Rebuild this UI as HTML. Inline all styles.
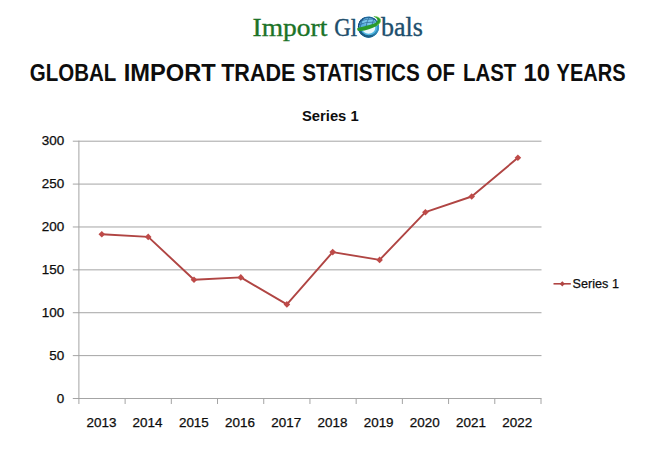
<!DOCTYPE html>
<html><head><meta charset="utf-8">
<style>
html,body{margin:0;padding:0;background:#fff;width:650px;height:450px;overflow:hidden;}
svg{display:block;}
text{font-family:"Liberation Sans",sans-serif;}
</style></head>
<body>
<svg width="650" height="450" viewBox="0 0 650 450">
<rect width="650" height="450" fill="#fff"/>
<!-- globe -->
<defs>
<linearGradient id="rg" x1="0" y1="0" x2="1" y2="0"><stop offset="0" stop-color="#1a5a80"/><stop offset="0.6" stop-color="#1c6189"/><stop offset="1" stop-color="#3ea6d8"/></linearGradient>
<clipPath id="gc"><circle cx="368.5" cy="27.1" r="10.6"/></clipPath>
<clipPath id="gb"><path d="M350 30.6 C362 30.6 372 28.5 384 20 L384 42 L350 42 Z"/></clipPath>
</defs>
<g clip-path="url(#gc)">
  <rect x="356" y="15" width="26" height="25" fill="#5aafdf"/>
  <ellipse cx="369" cy="21.5" rx="7" ry="3.6" fill="#86d0f2" opacity="0.7"/>
  <circle cx="368.5" cy="27.1" r="10" fill="none" stroke="#22679a" stroke-width="1.4"/>
  <g fill="none" stroke="#1c5586" stroke-width="0.9" opacity="0.7">
    <path d="M358 21.8 Q367 18 376 19"/>
    <path d="M357.5 25.2 Q366 21.5 375 22"/>
    <path d="M364 16.5 Q361 22 360 28"/>
    <path d="M369.5 16.5 Q366.5 22 366 27"/>
    <path d="M374.5 17.5 Q372.5 22 372 25"/>
  </g>
  <path d="M358.2 27 Q358 20 364.5 16.8" fill="none" stroke="#163c68" stroke-width="1.7" stroke-dasharray="1.4 0.9"/>
  <g clip-path="url(#gb)">
    <rect x="357" y="15" width="23.5" height="25" fill="url(#rg)"/>
    <ellipse cx="368.8" cy="27.6" rx="8.5" ry="7.7" fill="#4fb6e2"/>
    <ellipse cx="368.6" cy="27.8" rx="6.7" ry="5.9" fill="#eaf7fc"/>
  </g>
</g>
<path d="M357.3 28.4 C356.9 30.2 358 31.2 360 31.1 C366 30.7 372 28.8 376.6 26.1 C379.6 24.3 381.1 22 380.7 19.8 C380.3 17.8 378 16.5 374.4 16.2 L373.4 16.4 C375.6 17.2 377.3 18.4 377.4 19.9 C377.5 21.5 375.6 22.9 372.8 23.9 C368.8 25.4 363 26.6 357.3 27.9 Z" fill="#2b9a2b"/>
<path d="M376.8 25.6 C379.8 23.8 380.9 21.8 380.5 19.8 C380.1 18 378.2 16.8 375 16.4" fill="none" stroke="#8fdc6a" stroke-width="0.7"/>
<!-- chart -->
<g stroke="#a4a4a4" stroke-width="1" fill="none">
<line x1="72.8" y1="141.20" x2="541.50" y2="141.20"/>
<line x1="72.8" y1="184.08" x2="541.50" y2="184.08"/>
<line x1="72.8" y1="226.97" x2="541.50" y2="226.97"/>
<line x1="72.8" y1="269.85" x2="541.50" y2="269.85"/>
<line x1="72.8" y1="312.73" x2="541.50" y2="312.73"/>
<line x1="72.8" y1="355.62" x2="541.50" y2="355.62"/>
<line x1="72.8" y1="398.50" x2="541.50" y2="398.50"/>
<line x1="78.90" y1="140.70" x2="78.90" y2="404.00"/>
<line x1="125.11" y1="398.50" x2="125.11" y2="404.00"/>
<line x1="171.32" y1="398.50" x2="171.32" y2="404.00"/>
<line x1="217.53" y1="398.50" x2="217.53" y2="404.00"/>
<line x1="263.74" y1="398.50" x2="263.74" y2="404.00"/>
<line x1="309.95" y1="398.50" x2="309.95" y2="404.00"/>
<line x1="356.16" y1="398.50" x2="356.16" y2="404.00"/>
<line x1="402.37" y1="398.50" x2="402.37" y2="404.00"/>
<line x1="448.58" y1="398.50" x2="448.58" y2="404.00"/>
<line x1="494.79" y1="398.50" x2="494.79" y2="404.00"/>
<line x1="541.00" y1="398.50" x2="541.00" y2="404.00"/>
</g>
<polyline fill="none" stroke="#b04543" stroke-width="1.9" stroke-linejoin="round" points="101.80,234.20 148.20,236.90 194.00,279.75 240.80,277.40 286.90,304.40 332.70,252.10 379.60,259.90 425.40,212.20 471.70,196.50 517.90,157.80"/>
<g fill="#be4a48">
<path d="M101.80 230.90L105.10 234.20L101.80 237.50L98.50 234.20Z"/>
<path d="M148.20 233.60L151.50 236.90L148.20 240.20L144.90 236.90Z"/>
<path d="M194.00 276.45L197.30 279.75L194.00 283.05L190.70 279.75Z"/>
<path d="M240.80 274.10L244.10 277.40L240.80 280.70L237.50 277.40Z"/>
<path d="M286.90 301.10L290.20 304.40L286.90 307.70L283.60 304.40Z"/>
<path d="M332.70 248.80L336.00 252.10L332.70 255.40L329.40 252.10Z"/>
<path d="M379.60 256.60L382.90 259.90L379.60 263.20L376.30 259.90Z"/>
<path d="M425.40 208.90L428.70 212.20L425.40 215.50L422.10 212.20Z"/>
<path d="M471.70 193.20L475.00 196.50L471.70 199.80L468.40 196.50Z"/>
<path d="M517.90 154.50L521.20 157.80L517.90 161.10L514.60 157.80Z"/>
</g>
<line x1="553.5" y1="283.80" x2="570.8" y2="283.80" stroke="#b04543" stroke-width="1.6"/>
<path d="M562.30 281.20L564.90 283.80L562.30 286.40L559.70 283.80Z" fill="#b04543"/>
<text x="252.54" y="35.70" style="font-family:'Liberation Serif'" font-size="25.60" stroke="#1b7327" stroke-width="0.35" fill="#1b7327" textLength="74.76" lengthAdjust="spacingAndGlyphs">Import</text>
<text x="334.19" y="35.70" style="font-family:'Liberation Serif'" font-size="25.60" stroke="#1d4e6c" stroke-width="0.35" fill="#1d4e6c" textLength="22.79" lengthAdjust="spacingAndGlyphs">Gl</text>
<text x="381.10" y="35.70" style="font-family:'Liberation Serif'" font-size="26.40" stroke="#1d4e6c" stroke-width="0.35" fill="#1d4e6c" textLength="41.87" lengthAdjust="spacingAndGlyphs">bals</text>
<text x="29.86" y="80.80" style="font-family:'Liberation Sans'" font-size="23.60" font-weight="bold" fill="#0d0d0d" textLength="86.49" lengthAdjust="spacingAndGlyphs">GLOBAL</text>
<text x="123.72" y="80.80" style="font-family:'Liberation Sans'" font-size="23.60" font-weight="bold" fill="#0d0d0d" textLength="92.01" lengthAdjust="spacingAndGlyphs">IMPORT</text>
<text x="221.20" y="80.80" style="font-family:'Liberation Sans'" font-size="23.60" font-weight="bold" fill="#0d0d0d" textLength="74.17" lengthAdjust="spacingAndGlyphs">TRADE</text>
<text x="302.18" y="80.80" style="font-family:'Liberation Sans'" font-size="23.60" font-weight="bold" fill="#0d0d0d" textLength="117.57" lengthAdjust="spacingAndGlyphs">STATISTICS</text>
<text x="426.56" y="80.80" style="font-family:'Liberation Sans'" font-size="23.60" font-weight="bold" fill="#0d0d0d" textLength="28.41" lengthAdjust="spacingAndGlyphs">OF</text>
<text x="462.92" y="80.80" style="font-family:'Liberation Sans'" font-size="23.60" font-weight="bold" fill="#0d0d0d" textLength="53.41" lengthAdjust="spacingAndGlyphs">LAST</text>
<text x="523.41" y="80.80" style="font-family:'Liberation Sans'" font-size="23.60" font-weight="bold" fill="#0d0d0d" textLength="26.45" lengthAdjust="spacingAndGlyphs">10</text>
<text x="556.59" y="80.80" style="font-family:'Liberation Sans'" font-size="23.60" font-weight="bold" fill="#0d0d0d" textLength="68.94" lengthAdjust="spacingAndGlyphs">YEARS</text>
<text x="301.97" y="120.70" style="font-family:'Liberation Sans'" font-size="15.00" font-weight="bold" fill="#0d0d0d" textLength="56.70" lengthAdjust="spacingAndGlyphs">Series 1</text>
<text x="572.61" y="288.40" style="font-family:'Liberation Sans'" font-size="13.40" stroke="#0d0d0d" stroke-width="0.25" fill="#0d0d0d" textLength="46.31" lengthAdjust="spacingAndGlyphs">Series 1</text>
<text x="41.71" y="145.40" style="font-family:'Liberation Sans'" font-size="12.50" stroke="#0d0d0d" stroke-width="0.25" fill="#0d0d0d" textLength="22.42" lengthAdjust="spacingAndGlyphs">300</text>
<text x="41.71" y="188.40" style="font-family:'Liberation Sans'" font-size="12.50" stroke="#0d0d0d" stroke-width="0.25" fill="#0d0d0d" textLength="22.42" lengthAdjust="spacingAndGlyphs">250</text>
<text x="41.71" y="231.40" style="font-family:'Liberation Sans'" font-size="12.50" stroke="#0d0d0d" stroke-width="0.25" fill="#0d0d0d" textLength="22.42" lengthAdjust="spacingAndGlyphs">200</text>
<text x="41.71" y="273.90" style="font-family:'Liberation Sans'" font-size="12.50" stroke="#0d0d0d" stroke-width="0.25" fill="#0d0d0d" textLength="22.42" lengthAdjust="spacingAndGlyphs">150</text>
<text x="41.71" y="316.90" style="font-family:'Liberation Sans'" font-size="12.50" stroke="#0d0d0d" stroke-width="0.25" fill="#0d0d0d" textLength="22.42" lengthAdjust="spacingAndGlyphs">100</text>
<text x="49.19" y="359.90" style="font-family:'Liberation Sans'" font-size="12.50" stroke="#0d0d0d" stroke-width="0.25" fill="#0d0d0d" textLength="14.95" lengthAdjust="spacingAndGlyphs">50</text>
<text x="56.66" y="402.90" style="font-family:'Liberation Sans'" font-size="12.50" stroke="#0d0d0d" stroke-width="0.25" fill="#0d0d0d" textLength="7.47" lengthAdjust="spacingAndGlyphs">0</text>
<text x="86.51" y="426.90" style="font-family:'Liberation Sans'" font-size="12.50" stroke="#0d0d0d" stroke-width="0.25" fill="#0d0d0d" textLength="29.89" lengthAdjust="spacingAndGlyphs">2013</text>
<text x="132.61" y="426.90" style="font-family:'Liberation Sans'" font-size="12.50" stroke="#0d0d0d" stroke-width="0.25" fill="#0d0d0d" textLength="29.89" lengthAdjust="spacingAndGlyphs">2014</text>
<text x="178.91" y="426.90" style="font-family:'Liberation Sans'" font-size="12.50" stroke="#0d0d0d" stroke-width="0.25" fill="#0d0d0d" textLength="29.89" lengthAdjust="spacingAndGlyphs">2015</text>
<text x="225.11" y="426.90" style="font-family:'Liberation Sans'" font-size="12.50" stroke="#0d0d0d" stroke-width="0.25" fill="#0d0d0d" textLength="29.89" lengthAdjust="spacingAndGlyphs">2016</text>
<text x="271.31" y="426.90" style="font-family:'Liberation Sans'" font-size="12.50" stroke="#0d0d0d" stroke-width="0.25" fill="#0d0d0d" textLength="29.89" lengthAdjust="spacingAndGlyphs">2017</text>
<text x="317.51" y="426.90" style="font-family:'Liberation Sans'" font-size="12.50" stroke="#0d0d0d" stroke-width="0.25" fill="#0d0d0d" textLength="29.89" lengthAdjust="spacingAndGlyphs">2018</text>
<text x="363.71" y="426.90" style="font-family:'Liberation Sans'" font-size="12.50" stroke="#0d0d0d" stroke-width="0.25" fill="#0d0d0d" textLength="29.89" lengthAdjust="spacingAndGlyphs">2019</text>
<text x="409.81" y="426.90" style="font-family:'Liberation Sans'" font-size="12.50" stroke="#0d0d0d" stroke-width="0.25" fill="#0d0d0d" textLength="29.89" lengthAdjust="spacingAndGlyphs">2020</text>
<text x="456.11" y="426.90" style="font-family:'Liberation Sans'" font-size="12.50" stroke="#0d0d0d" stroke-width="0.25" fill="#0d0d0d" textLength="29.89" lengthAdjust="spacingAndGlyphs">2021</text>
<text x="502.31" y="426.90" style="font-family:'Liberation Sans'" font-size="12.50" stroke="#0d0d0d" stroke-width="0.25" fill="#0d0d0d" textLength="29.89" lengthAdjust="spacingAndGlyphs">2022</text>
</svg>
</body></html>
